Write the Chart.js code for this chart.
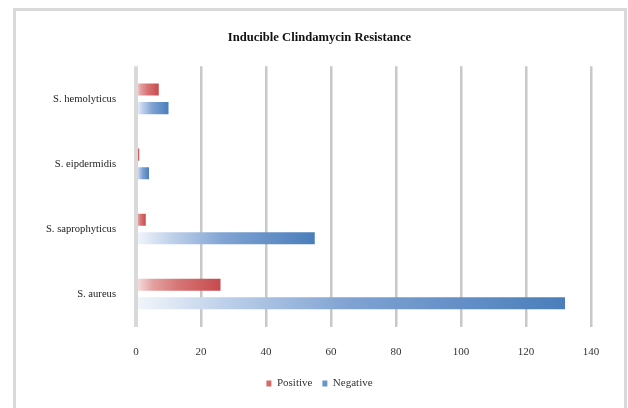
<!DOCTYPE html>
<html>
<head>
<meta charset="utf-8">
<script src="https://cdn.jsdelivr.net/npm/chart.js@4/dist/chart.umd.min.js"></script>
<style>
  html, body { margin: 0; padding: 0; background: #ffffff; }
  body { width: 628px; height: 408px; position: relative; overflow: hidden; }
  #frame {
    position: absolute; left: 13px; top: 8px; width: 614px; height: 420px;
    box-sizing: border-box; border: 3px solid #d9d9d9;
  }
  #wrap { position: absolute; left: 0; top: 0; width: 628px; height: 408px; }
</style>
</head>
<body>
<div id="frame"></div>
<div id="wrap"><canvas id="chart" width="628" height="408"></canvas></div>
<script>
// Isolates, bottom to top as listed on the axis
const categories = ['S. aureus', 'S. saprophyticus', 'S. eipdermidis', 'S. hemolyticus'];
const positive = [26, 3, 1, 7];
const negative = [132, 55, 4, 10];
const xTicks = [0, 20, 40, 60, 80, 100, 120, 140];

const SERIF = '"Liberation Serif", "Times New Roman", serif';

// Horizontal fade from pale at the axis to full colour at the bar end
function fade(stops) {
  return function (context) {
    const chart = context.chart;
    const xs = chart.scales.x;
    const full = stops[stops.length - 1][1];
    if (!chart.chartArea || !xs || typeof context.raw !== 'number') return full;
    const x0 = xs.getPixelForValue(0);
    const x1 = xs.getPixelForValue(context.raw);
    if (x1 - x0 < 2) return full;
    const g = chart.ctx.createLinearGradient(x0, 0, x1, 0);
    stops.forEach(([t, c]) => g.addColorStop(t, c));
    return g;
  };
}

const redStops = [[0, '#f7e2e2'], [0.2, '#e3a0a0'], [0.5, '#d77575'], [1, '#c64a4d']];
const blueStops = [[0, '#f2f6fb'], [0.2, '#bfd1ea'], [0.5, '#7fa2d2'], [1, '#4a7ebb']];
const legendColors = ['#d46a6a', '#6d95cd'];

new Chart(document.getElementById('chart'), {
  type: 'bar',
  data: {
    labels: categories,
    datasets: [
      {
        label: 'Positive',
        data: positive,
        backgroundColor: fade(redStops),
        borderWidth: 0,
        categoryPercentage: 0.57,
        barPercentage: 0.65
      },
      {
        label: 'Negative',
        data: negative,
        backgroundColor: fade(blueStops),
        borderWidth: 0,
        categoryPercentage: 0.57,
        barPercentage: 0.65
      }
    ]
  },
  options: {
    indexAxis: 'y',
    responsive: false,
    animation: false,
    layout: { padding: { left: 13, right: 2, top: 0, bottom: 9 } },
    scales: {
      x: {
        type: 'linear',
        min: xTicks[0],
        max: xTicks[xTicks.length - 1],
        afterBuildTicks: (s) => { s.ticks = xTicks.map(v => ({ value: v })); },
        afterFit: (s) => { s.height = 41.5; },
        grid: {
          drawTicks: false,
          color: (c) => c.index === 0 ? '#d9d9d9' : '#c8c8c8',
          lineWidth: (c) => c.index === 0 ? 4 : 2.5
        },
        border: { display: false },
        ticks: {
          padding: 19,
          color: '#333333',
          font: { family: SERIF, size: 11 }
        }
      },
      y: {
        type: 'category',
        reverse: true,
        afterFit: (s) => { s.width = 123; },
        grid: { display: false, drawTicks: false },
        border: { display: false },
        ticks: {
          padding: 20,
          color: '#222222',
          font: { family: SERIF, size: 10.6 }
        }
      },
      yRight: {
        type: 'linear',
        position: 'right',
        display: true,
        afterFit: (s) => { s.width = 35; },
        grid: { display: false, drawTicks: false },
        border: { display: false },
        ticks: { display: false }
      }
    },
    plugins: {
      title: {
        display: true,
        text: 'Inducible Clindamycin Resistance',
        color: '#111111',
        font: { family: SERIF, size: 12.6, weight: 'bold' },
        padding: { top: 30, bottom: 21.2 }
      },
      legend: {
        display: true,
        position: 'bottom',
        labels: {
          boxWidth: 5,
          boxHeight: 6,
          padding: 10,
          color: '#333333',
          font: { family: SERIF, size: 11 },
          generateLabels: (chart) => chart.data.datasets.map((ds, i) => ({
            text: ds.label,
            fillStyle: legendColors[i],
            strokeStyle: legendColors[i],
            lineWidth: 0,
            hidden: false,
            datasetIndex: i,
            fontColor: '#333333'
          }))
        }
      },
      tooltip: { enabled: false }
    }
  }
});
</script>
</body>
</html>
